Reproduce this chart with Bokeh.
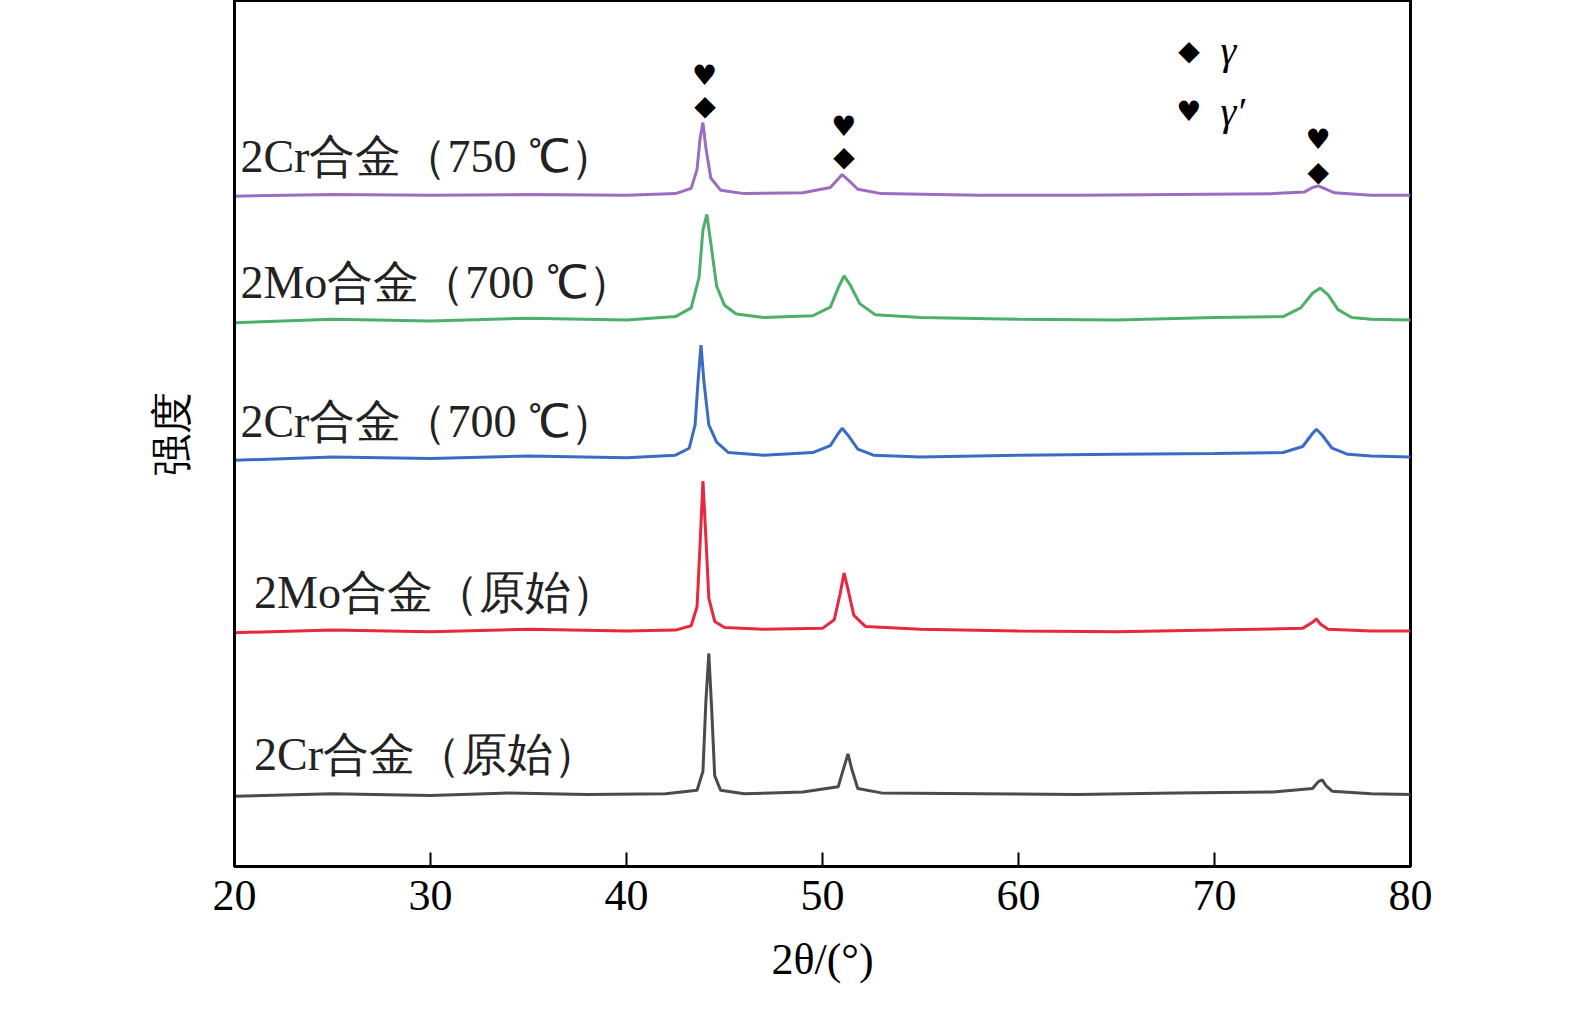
from bokeh.plotting import figure
from bokeh.models import Range1d, ColumnDataSource
from bokeh.core.properties import value
from bokeh.embed import file_html
from bokeh.resources import INLINE

# (2theta, intensity) samples, intensity in arbitrary units with offsets
gray_x = [20, 25, 30, 34, 38, 42, 43.6, 43.9, 44.05, 44.2, 44.35, 44.5, 44.8, 46, 49, 50.8, 51.1, 51.3, 51.5, 51.8, 53, 58, 63, 68, 73, 75.0, 75.3, 75.5, 75.7, 76.0, 78, 80]
gray_y = [8.1, 8.4, 8.2, 8.5, 8.3, 8.4, 8.8, 11, 19, 24.6, 18, 10.5, 8.8, 8.4, 8.6, 9.2, 11.5, 13.0, 11.2, 9.0, 8.5, 8.4, 8.3, 8.5, 8.6, 9.0, 9.8, 10.0, 9.3, 8.7, 8.4, 8.3]
red_x = [20, 25, 30, 35, 40, 42.5, 43.3, 43.6, 43.75, 43.9, 44.05, 44.2, 44.5, 45, 47, 50, 50.6, 50.9, 51.1, 51.3, 51.6, 52.2, 55, 60, 65, 70, 74.5, 75.0, 75.2, 75.4, 75.8, 78, 80]
red_y = [27.0, 27.3, 27.1, 27.4, 27.2, 27.3, 27.8, 30, 37, 44.5, 38, 31, 28.3, 27.6, 27.4, 27.5, 28.5, 31.5, 33.9, 32, 29, 27.7, 27.4, 27.2, 27.1, 27.3, 27.5, 28.2, 28.6, 28.0, 27.4, 27.2, 27.2]
blue_x = [20, 25, 30, 35, 40, 42.5, 43.2, 43.5, 43.65, 43.8, 43.95, 44.2, 44.6, 45.2, 47, 49.5, 50.4, 50.8, 51.0, 51.3, 51.8, 52.6, 55, 60, 65, 70, 73.5, 74.5, 75.0, 75.2, 75.5, 76.0, 76.8, 78, 80]
blue_y = [46.9, 47.3, 47.1, 47.4, 47.2, 47.5, 48.3, 51, 56, 60.2, 56, 51, 49, 47.8, 47.5, 47.8, 48.6, 50, 50.6, 49.8, 48.2, 47.5, 47.3, 47.5, 47.6, 47.7, 47.8, 48.5, 50.0, 50.5, 49.8, 48.3, 47.6, 47.4, 47.3]
green_x = [20, 25, 30, 35, 40, 42.5, 43.3, 43.7, 43.9, 44.1, 44.3, 44.6, 45.0, 45.6, 47, 49.5, 50.4, 50.8, 51.1, 51.4, 51.9, 52.7, 55, 60, 65, 70, 73.5, 74.4, 75.0, 75.4, 75.8, 76.3, 77.0, 78, 80]
green_y = [62.8, 63.2, 63.0, 63.3, 63.1, 63.5, 64.5, 68, 73.5, 75.3, 72, 67, 64.8, 63.8, 63.4, 63.6, 64.6, 66.8, 68.2, 67.2, 65.0, 63.7, 63.4, 63.2, 63.1, 63.4, 63.5, 64.5, 66.2, 66.8, 66.0, 64.3, 63.4, 63.2, 63.1]
purple_x = [20, 25, 30, 35, 40, 42.5, 43.3, 43.6, 43.75, 43.9, 44.05, 44.3, 44.8, 46, 49, 50.4, 50.8, 51.0, 51.3, 51.8, 53, 58, 63, 68, 73, 74.6, 75.0, 75.3, 75.6, 76.1, 78, 80]
purple_y = [77.4, 77.6, 77.5, 77.6, 77.5, 77.7, 78.3, 80.5, 84, 85.9, 83, 79.5, 78.1, 77.7, 77.8, 78.4, 79.4, 79.9, 79.3, 78.2, 77.7, 77.5, 77.5, 77.6, 77.7, 77.9, 78.4, 78.6, 78.3, 77.8, 77.5, 77.5]

series = [
    (gray_x, gray_y, "#4a4a50"),
    (red_x, red_y, "#e8283c"),
    (blue_x, blue_y, "#3b6cc4"),
    (green_x, green_y, "#4caf6a"),
    (purple_x, purple_y, "#9b6cc0"),
]

labels = ["2Cr合金（750 ℃）", "2Mo合金（700 ℃）", "2Cr合金（700 ℃）", "2Mo合金（原始）", "2Cr合金（原始）"]
label_x = [20.3, 20.3, 20.3, 21.0, 21.0]
label_y = [82.0, 67.4, 51.4, 31.6, 12.9]

mark_text = ["♥", "◆", "♥", "◆", "♥", "◆"]
mark_x = [44.0, 44.0, 51.1, 51.1, 75.3, 75.3]
mark_y = [91.3, 87.9, 85.4, 82.0, 83.9, 80.3]

legend_sym = ["◆", "♥"]
legend_txt = ["γ", "γ′"]
legend_x = [68.7, 68.7]
legend_y = [94.2, 87.2]
tick_vals = [20, 30, 40, 50, 60, 70, 80]

p = figure(width=1560, height=1020, output_backend="svg", toolbar_location=None,
           x_range=Range1d(20, 80), y_range=Range1d(0, 100),
           min_border_left=234, min_border_right=150, min_border_top=0, min_border_bottom=154)
p.grid.visible = False
p.outline_line_color = "black"
p.outline_line_width = 3

for xs, ys, c in series:
    p.line(xs, ys, line_color=c, line_width=3)

serif = value("Liberation Serif")
p.text(x=label_x, y=label_y, text=labels, text_font=serif, text_font_size="46px",
       text_baseline="middle", text_align="left", text_color="#222222")
p.text(x=mark_x, y=mark_y, text=mark_text, text_font=value("DejaVu Sans"), text_font_size="28px",
       text_baseline="middle", text_align="center", text_color="black")
p.text(x=legend_x, y=legend_y, text=legend_sym, text_font=value("DejaVu Sans"), text_font_size="28px",
       text_baseline="middle", text_align="center", text_color="black")
p.text(x=[70.3, 70.3], y=legend_y, text=legend_txt, text_font=serif, text_font_size="40px",
       text_font_style="italic", text_baseline="middle", text_align="left", text_color="black")

p.xaxis.ticker = tick_vals
p.xaxis.axis_line_width = 3
p.xaxis.major_tick_in = 14
p.xaxis.major_tick_out = 0
p.xaxis.major_tick_line_width = 2
p.xaxis.minor_tick_line_color = None
p.xaxis.major_label_text_font = "Liberation Serif"
p.xaxis.major_label_text_font_size = "44px"
p.xaxis.major_label_text_color = "black"
p.xaxis.major_label_standoff = 14
p.xaxis.axis_label = "2θ/(°)"
p.xaxis.axis_label_text_font = "Liberation Serif"
p.xaxis.axis_label_text_font_style = "normal"
p.xaxis.axis_label_text_font_size = "44px"
p.xaxis.axis_label_text_color = "black"
p.xaxis.axis_label_standoff = 22

p.yaxis.ticker = []
p.yaxis.major_label_text_font_size = "0px"
p.yaxis.axis_line_width = 3
p.yaxis.axis_label = "强度"
p.yaxis.axis_label_text_font_size = "42px"
p.yaxis.axis_label_text_font_style = "normal"
p.yaxis.axis_label_text_color = "black"
p.yaxis.axis_label_standoff = 40

open("out.html", "w").write(file_html(p, INLINE))
